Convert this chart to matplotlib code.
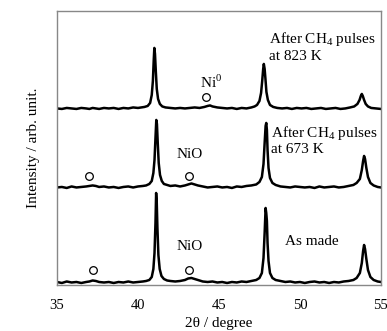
import numpy as np
import matplotlib
matplotlib.use("Agg")
import matplotlib.pyplot as plt

plt.rcParams["font.family"] = ["Liberation Serif", "DejaVu Serif"]
plt.rcParams["mathtext.fontset"] = "custom"
plt.rcParams["mathtext.rm"] = "Liberation Serif"

# XRD patterns (2theta in degree, intensity in arb. units)
two_theta_made = [35.0, 35.3, 35.6, 35.9, 36.2, 36.5, 36.8, 37.0, 37.2, 37.4, 37.6, 37.9,
                  38.2, 38.5, 38.8, 39.1, 39.4, 39.7, 40.0, 40.3, 40.5, 40.7, 40.85, 40.95,
                  41.02, 41.08, 41.12, 41.16, 41.2, 41.26, 41.34, 41.45, 41.6, 41.8, 42.0,
                  42.3, 42.6, 42.9, 43.1, 43.3, 43.5, 43.7, 44.0, 44.3, 44.6, 44.9, 45.2,
                  45.5, 45.8, 46.1, 46.4, 46.7, 47.0, 47.3, 47.5, 47.65, 47.75, 47.82, 47.88,
                  47.92, 47.96, 48.0, 48.06, 48.15, 48.3, 48.5, 48.8, 49.1, 49.4, 49.7, 50.0,
                  50.3, 50.6, 50.9, 51.2, 51.5, 51.8, 52.1, 52.4, 52.7, 53.0, 53.3, 53.5,
                  53.7, 53.82, 53.9, 53.96, 54.02, 54.1, 54.2, 54.35, 54.55, 54.8, 55.0]
int_made = [1, 0, 1.5, 0.5, 1, 0, 1, 1.5, 2.5, 2, 1, 0.5,
            1, 0, 1, 0.5, 1.5, 0.5, 1, 1.5, 2, 3, 6, 14,
            30, 60, 90, 80, 55, 28, 14, 7, 4, 2.5, 2,
            1.5, 2, 3, 4.5, 5, 4, 3, 1.5, 1, 1.5, 0.5, 1,
            0, 1, 0.5, 1.5, 1, 2, 3, 5, 10, 25, 50, 75,
            70, 62, 40, 22, 10, 5, 3, 2, 1, 1.5, 0.5, 1,
            0, 1, 1.5, 0.5, 1, 0, 1, 0.5, 1.5, 2, 3, 5,
            10, 20, 32, 38, 34, 24, 13, 6, 3, 1.5, 1]

two_theta_673 = [35.0, 35.3, 35.6, 35.9, 36.2, 36.5, 36.8, 37.0, 37.2, 37.4, 37.6, 37.9,
                 38.2, 38.5, 38.8, 39.1, 39.4, 39.7, 40.0, 40.3, 40.5, 40.7, 40.85, 40.95,
                 41.02, 41.08, 41.13, 41.17, 41.22, 41.28, 41.36, 41.47, 41.6, 41.8, 42.0,
                 42.3, 42.6, 42.9, 43.1, 43.3, 43.5, 43.7, 44.0, 44.3, 44.6, 44.9, 45.2,
                 45.5, 45.8, 46.1, 46.4, 46.7, 47.0, 47.3, 47.5, 47.65, 47.75, 47.82, 47.88,
                 47.92, 47.96, 48.0, 48.06, 48.15, 48.3, 48.5, 48.8, 49.1, 49.4, 49.7, 50.0,
                 50.3, 50.6, 50.9, 51.2, 51.5, 51.8, 52.1, 52.4, 52.7, 53.0, 53.3, 53.5,
                 53.7, 53.82, 53.9, 53.96, 54.02, 54.1, 54.2, 54.35, 54.55, 54.8, 55.0]
int_673 = [0.5, 1, 0, 1.5, 0.5, 1, 1.5, 2, 2.5, 2, 1, 1.5,
           0.5, 1, 0, 1, 1.5, 0.5, 1.5, 2, 2.5, 4, 7, 15,
           28, 50, 68, 64, 45, 25, 13, 7, 4, 3, 2,
           2.5, 1.5, 2.5, 3.5, 4.5, 3.5, 2.5, 1.5, 0.5, 1, 1.5, 0.5,
           1, 0, 1.5, 1, 2, 2.5, 3.5, 6, 11, 24, 45, 62,
           65, 58, 38, 20, 10, 5, 3, 1.5, 1, 0.5, 1.5, 1,
           0.5, 1, 0, 1.5, 0.5, 1, 1.5, 0.5, 1, 2, 3, 5,
           9, 18, 27, 32, 29, 20, 11, 5, 2.5, 1, 0.5]

two_theta_823 = [35.0, 35.3, 35.6, 35.9, 36.2, 36.5, 36.8, 37.0, 37.2, 37.4, 37.6, 37.9,
                 38.2, 38.5, 38.8, 39.1, 39.4, 39.7, 40.0, 40.2, 40.4, 40.6, 40.75, 40.85,
                 40.92, 40.97, 41.01, 41.05, 41.1, 41.16, 41.24, 41.35, 41.5, 41.7, 42.0,
                 42.3, 42.6, 42.9, 43.2, 43.5, 43.8, 44.1, 44.3, 44.45, 44.6, 44.9, 45.2,
                 45.5, 45.8, 46.1, 46.4, 46.7, 47.0, 47.2, 47.35, 47.5, 47.6, 47.67, 47.73,
                 47.77, 47.82, 47.87, 47.93, 48.02, 48.15, 48.35, 48.6, 48.9, 49.2, 49.5, 49.8,
                 50.1, 50.4, 50.7, 51.0, 51.3, 51.6, 51.9, 52.2, 52.5, 52.8, 53.1, 53.35,
                 53.55, 53.68, 53.76, 53.82, 53.88, 53.96, 54.06, 54.2, 54.4, 54.7, 55.0]
int_823 = [0.5, 0, 1, 0.5, 0, 1, 0.5, 0, 1, 0.5, 0, 1,
           0.5, 1, 0, 1, 0.5, 1.5, 1, 1.5, 2, 3, 6, 14,
           28, 48, 61, 55, 38, 20, 10, 5, 2.5, 1.5, 1,
           0.5, 1, 0.5, 1, 1.5, 1, 2, 3, 3.5, 2.5, 1.5, 1,
           0.5, 1, 0, 1, 0.5, 1.5, 2.5, 4, 8, 16, 28, 40,
           45, 40, 30, 17, 9, 4, 2, 1, 0.5, 1, 0, 1,
           0.5, 1, 0, 0.5, 1, 0, 0.5, 1, 0, 0.5, 1.5, 2.5,
           5, 9, 13, 15, 13, 9, 5, 2.5, 1, 0.5, 0]

# vertical stacking offsets of the three patterns
offsets = [0, 95, 174]

# open-circle reflection markers (2theta, height above each pattern baseline)
markers_made = ([37.2, 43.15], [13, 13])
markers_673 = ([37.0, 43.15], [12, 12])
markers_823 = ([44.2], [12])

fig = plt.figure(figsize=(3.87, 3.31), dpi=100)
ax = fig.add_axes([0.1473, 0.139, 0.837, 0.828])

traces = [(two_theta_made, int_made, markers_made),
          (two_theta_673, int_673, markers_673),
          (two_theta_823, int_823, markers_823)]
for (tt, inten, mk), off in zip(traces, offsets):
    ax.plot(tt, np.array(inten) + off, color="black", lw=1.8)
    ax.plot(mk[0], np.array(mk[1]) + off, "o", mfc="white", mec="black",
            mew=0.9, ms=5.5, ls="none")

fs = 11
ax.text(48.1, 244, "After CH$_4$ pulses", fontsize=fs, va="center")
ax.text(48.1, 226, "at 823 K", fontsize=fs, va="center")
ax.text(43.83, 201, "Ni$^0$", fontsize=fs, va="center")
ax.text(48.22, 150, "After CH$_4$ pulses", fontsize=fs, va="center")
ax.text(48.22, 133, "at 673 K", fontsize=fs, va="center")
ax.text(42.35, 128, "NiO", fontsize=fs, va="center")
ax.text(42.35, 36, "NiO", fontsize=fs, va="center")
ax.text(49.1, 41, "As made", fontsize=fs, va="center")

ax.set_xlim(35, 55)
ax.set_ylim(-2, 272)
ax.set_xticks([35, 40, 45, 50, 55])
ax.set_yticks([])
ax.tick_params(axis="x", length=0, labelsize=10.5, pad=10)
for s in ax.spines.values():
    s.set_color("#888888")
    s.set_linewidth(1.0)
ax.set_xlabel("2θ / degree", fontsize=11, labelpad=4)
ax.set_ylabel("Intensity / arb. unit.", fontsize=11, labelpad=12)

fig.savefig("out.png", dpi=100)
